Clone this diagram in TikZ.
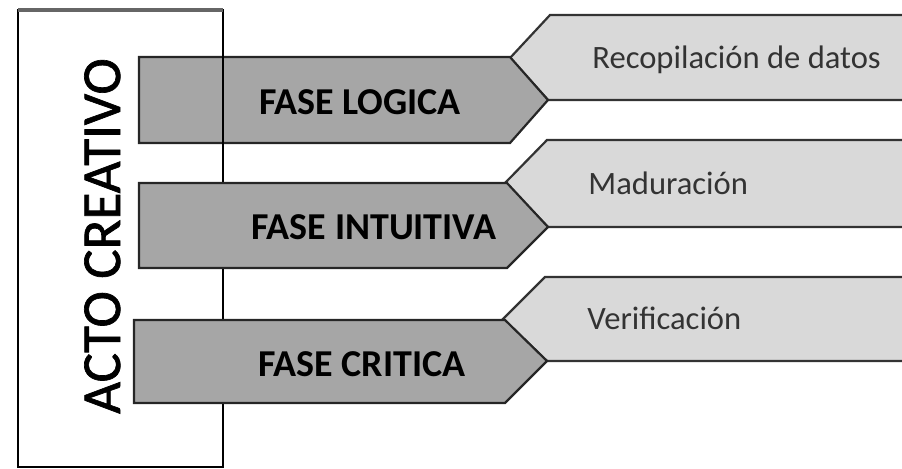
\documentclass[tikz,border=0pt]{standalone}
\usepackage{fontspec}
\setmainfont{Carlito}

\tikzset{
  fase/.style={draw=black!85, line width=1.1pt, fill=black!35},
  etapa/.style={draw=black!80, line width=1.1pt, fill=black!15},
  textofase/.style={font=\fontsize{19}{22}\selectfont\bfseries, anchor=base, inner sep=0pt},
  textoetapa/.style={font=\fontsize{16.3}{19}\selectfont, text=black!80, anchor=base west, inner sep=0pt},
}

\begin{document}
\begin{tikzpicture}[x=0.5pt, y=-0.5pt]
    \useasboundingbox (0,0) rectangle (902,468);
    \clip (0,0) rectangle (902,468);

    % Etapas (flechas claras)
    \draw[etapa] (510,58) -- (550,15) -- (910,15) -- (910,100) -- (548,100) -- cycle;
    \draw[etapa] (505,183) -- (547,140) -- (910,140) -- (910,227) -- (548,227) -- cycle;
    \draw[etapa] (503,319) -- (545,277) -- (910,277) -- (910,361) -- (547,361) -- cycle;

    % Fase logica
    \draw[fase] (139,57) -- (510,57) -- (548,100) -- (510,143) -- (139,143) -- cycle;

    % Marco (acto creativo)
    \draw[line width=1.1pt] (18,10) rectangle (223,467);
    \draw[black!60, line width=2pt] (18,10) -- (223,10);

    % Fase intuitiva y fase critica
    \draw[fase] (139,183) -- (507,183) -- (548,227) -- (507,268) -- (139,268) -- cycle;
    \draw[fase] (134,320) -- (505,320) -- (547,361) -- (505,403) -- (134,403) -- cycle;

    % Textos
    \node[rotate=90, anchor=base, inner sep=0pt, font=\fontsize{27.5}{30}\selectfont\addfontfeature{FakeBold=1.2}] (acto) at (120,236) {ACTO CREATIVO};

    \node[textofase] (logica) at (360,114) {FASE LOGICA};
    \node[textofase] (intuitiva) at (374,239) {FASE INTUITIVA};
    \node[textofase] (critica) at (362,376) {FASE CRITICA};

    \node[textoetapa] (recopilacion) at (592,68) {Recopilación de datos};
    \node[textoetapa] (maduracion) at (588,194) {Maduración};
    \node[textoetapa] (verificacion) at (587,329) {Verificación};
\end{tikzpicture}
\end{document}
